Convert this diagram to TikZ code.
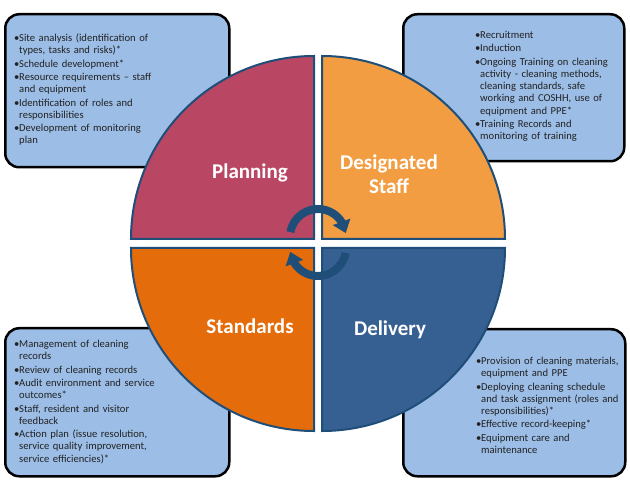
\documentclass[tikz,border=0pt]{standalone}
\usepackage{fontspec}
\setmainfont{Carlito}
\usetikzlibrary{arrows.meta,bending}
\definecolor{planc}{HTML}{B94764}
\definecolor{staffc}{HTML}{F29D41}
\definecolor{stdc}{HTML}{E46C0A}
\definecolor{delc}{HTML}{376092}
\definecolor{edgec}{HTML}{1F4E79}
\definecolor{boxc}{HTML}{9BBDE6}
\definecolor{txtc}{HTML}{222222}
\newcommand{\bitem}[1]{\noindent\hangindent=5pt\hangafter=1\makebox[5pt][l]{•}#1\par\vspace{1.2pt}}
\begin{document}
\begin{tikzpicture}[x=1pt,y=1pt,
  infobox/.style={draw=black, line width=2.5pt, fill=boxc, rounded corners=14pt, inner sep=0pt, anchor=north west},
  listtext/.style={anchor=base west, text width=205pt, align=left, inner sep=0pt, text=txtc,
    font=\fontsize{10.6}{12.2}\selectfont},
  quad/.style={draw=edgec, line width=2pt, line join=miter},
  qlabel/.style={text=white, font=\bfseries\fontsize{21}{24}\selectfont, align=center, inner sep=0pt},
  cyc/.style={draw=edgec, line width=8pt, -{Triangle[width=18pt,length=12pt]}}]
\useasboundingbox (0,0) rectangle (630,-489);
\fill[white] (0,0) rectangle (630,-489);

% information boxes
\node[infobox, minimum width=224pt, minimum height=153pt] (tlbox) at (4,-13) {};
\node[infobox, minimum width=221pt, minimum height=147pt] (trbox) at (402,-13) {};
\node[infobox, minimum width=224pt, minimum height=148pt] (blbox) at (4,-327) {};
\node[infobox, minimum width=222pt, minimum height=147pt] (brbox) at (402,-328) {};

\node[listtext] (tltext) at (14,-41.5) {%
\bitem{Site analysis (identification of\newline types, tasks and risks)*}%
\bitem{Schedule development*}%
\bitem{Resource requirements – staff\newline and equipment}%
\bitem{Identification of roles and\newline responsibilities}%
\bitem{Development of monitoring\newline plan}};

\node[listtext] (trtext) at (475,-38.5) {%
\bitem{Recruitment}%
\bitem{Induction}%
\bitem{Ongoing Training on cleaning\newline activity - cleaning methods,\newline cleaning standards, safe\newline working and COSHH, use of\newline equipment and PPE*}%
\bitem{Training Records and\newline monitoring of training}};

\node[listtext] (bltext) at (14,-347.5) {%
\bitem{Management of cleaning\newline records}%
\bitem{Review of cleaning records}%
\bitem{Audit environment and service\newline outcomes*}%
\bitem{Staff, resident and visitor\newline feedback}%
\bitem{Action plan (issue resolution,\newline service quality improvement,\newline service efficiencies)*}};

\node[listtext] (brtext) at (476,-364.5) {%
\bitem{Provision of cleaning materials,\newline equipment and PPE}%
\bitem{Deploying cleaning schedule\newline and task assignment (roles and\newline responsibilities)*}%
\bitem{Effective record-keeping*}%
\bitem{Equipment care and\newline maintenance}};

% circle quadrants
\path[quad, fill=planc] (314,-239) -- (131,-239) arc[start angle=180, end angle=90, radius=183] -- cycle;
\path[quad, fill=staffc] (322,-239) -- (322,-56) arc[start angle=90, end angle=0, radius=183] -- cycle;
\path[quad, fill=stdc] (314,-248) -- (131,-248) arc[start angle=180, end angle=270, radius=183] -- cycle;
\path[quad, fill=delc] (322,-248) -- (505,-248) arc[start angle=0, end angle=-90, radius=183] -- cycle;

% labels
\node[qlabel] (planlbl) at (250,-173) {Planning};
\node[qlabel] (stafflbl) at (389,-174) {Designated\\Staff};
\node[qlabel] (stdlbl) at (250,-326) {Standards};
\node[qlabel] (dellbl) at (390,-330) {Delivery};

% cycle arrows
\coordinate (topc) at (318,-237);
\coordinate (botc) at (318,-248);
\draw[cyc] (topc) ++(170:28) arc[start angle=170, end angle=8, radius=28];
\draw[cyc] (botc) ++(-10:28) arc[start angle=-10, end angle=-172, radius=28];
\end{tikzpicture}
\end{document}
